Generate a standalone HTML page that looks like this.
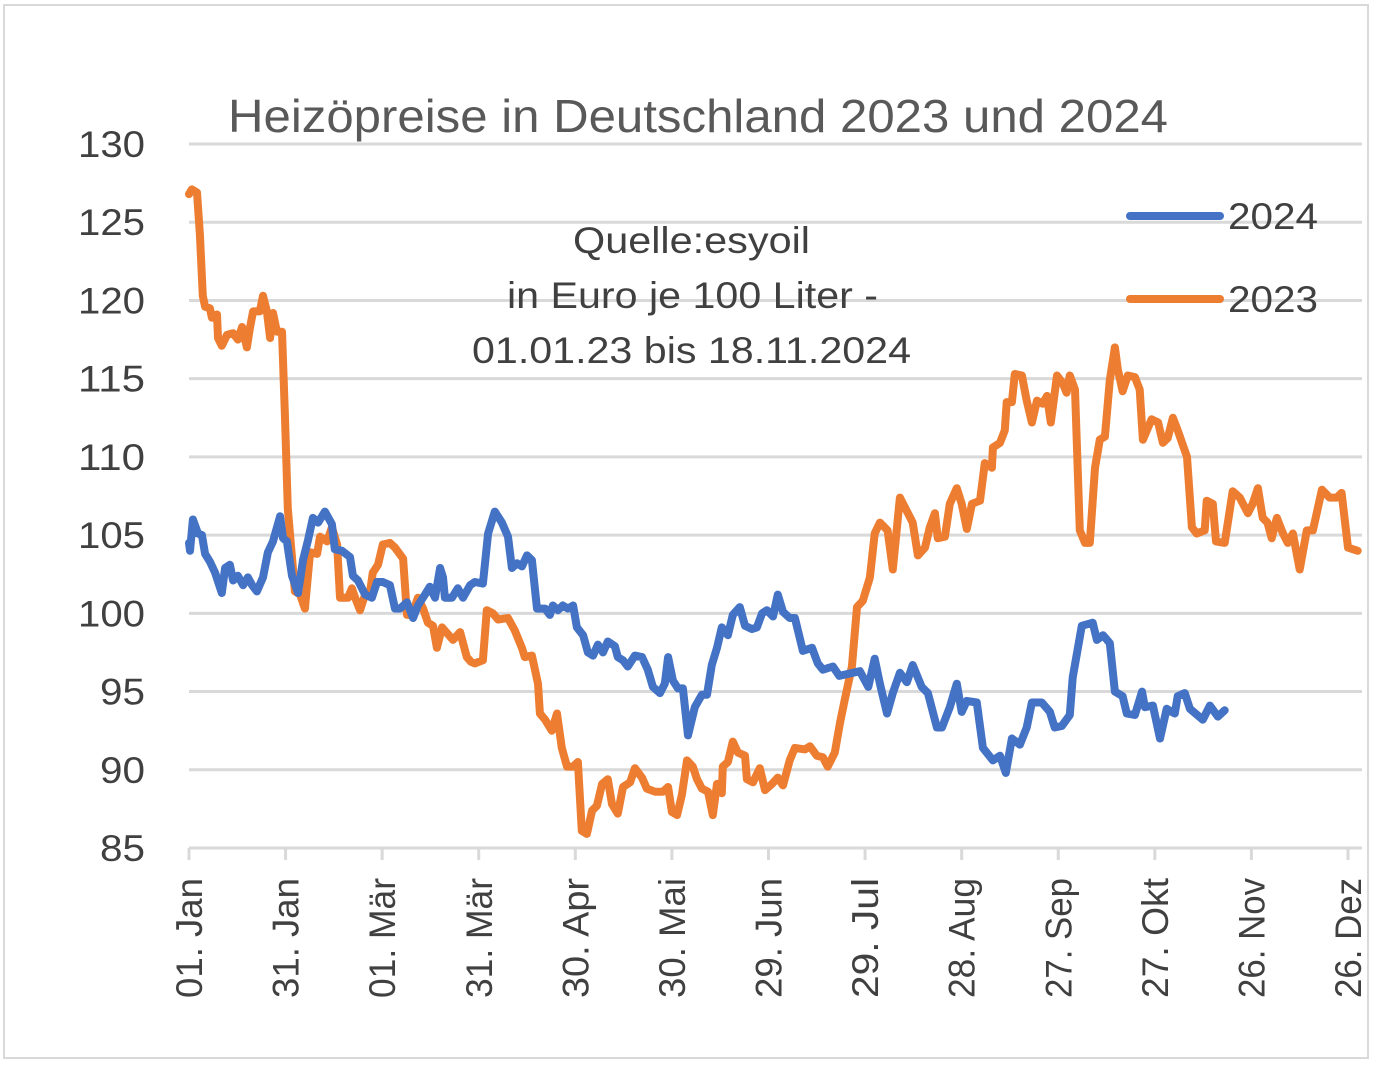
<!DOCTYPE html>
<html><head><meta charset="utf-8"><style>
html,body{margin:0;padding:0;background:#fff;}
svg{display:block;font-family:"Liberation Sans",sans-serif;}
</style></head><body>
<svg id="chart" width="1375" height="1067" viewBox="0 0 1375 1067" xmlns="http://www.w3.org/2000/svg">
<rect x="4" y="5" width="1364" height="1053" fill="#fff" stroke="#d9d9d9" stroke-width="2"/>
<text x="228" y="132" textLength="940" lengthAdjust="spacingAndGlyphs" font-size="46" fill="#595959">Heizöpreise in Deutschland 2023 und 2024</text>
<g id="grid"></g>
<g id="yaxis"></g>
<g id="xaxis"></g>
<g font-size="37" fill="#404040">
<text x="573" y="253" textLength="237" lengthAdjust="spacingAndGlyphs">Quelle:esyoil</text>
<text x="507" y="308" textLength="371" lengthAdjust="spacingAndGlyphs">in Euro je 100 Liter -</text>
<text x="472" y="363" textLength="439" lengthAdjust="spacingAndGlyphs">01.01.23 bis 18.11.2024</text>
</g>
<g id="series"></g>
<g>
<line x1="1130" y1="216" x2="1220" y2="216" stroke="#4472c4" stroke-width="8" stroke-linecap="round"/>
<text x="1228" y="229" textLength="90" lengthAdjust="spacingAndGlyphs" font-size="37" fill="#404040">2024</text>
<line x1="1130" y1="299" x2="1220" y2="299" stroke="#ed7d31" stroke-width="8" stroke-linecap="round"/>
<text x="1228" y="312" textLength="90" lengthAdjust="spacingAndGlyphs" font-size="37" fill="#404040">2023</text>
</g>
</svg>
<script>
const yTicks = [85,90,95,100,105,110,115,120,125,130];
const xTickDays = [0,30,60,90,120,150,180,210,240,270,300,330,360];
const xTickLabels = ["01. Jan","31. Jan","01. Mär","31. Mär","30. Apr","30. Mai","29. Jun","29. Jul","28. Aug","27. Sep","27. Okt","26. Nov","26. Dez"];
const days2023 = [0,0.9,2.5,3.4,4.3,5,6.5,7.1,8.7,9,10.2,11.8,13.7,15.2,16.5,18,18.9,19.9,22,23,24.2,25.2,26.1,27.3,28.9,29.8,30.7,32.9,34.5,36,37.6,39.8,40.7,42.9,44.4,46,46.9,49.4,50.6,51.6,53.1,54.7,56.2,57.1,58.7,60.2,62.4,64,66.5,67.7,69.3,71.1,72.7,74.2,75.8,77,78.6,82,84.2,86.3,87.6,88.8,91.3,92.5,94.4,96,99.1,101.2,103.4,104.3,106.5,108.4,109,110.6,112.7,114.3,115.8,117.4,119.3,120.8,122,123.6,125.2,126.7,128.3,130.1,131.4,133.2,134.8,137,138.5,140.7,142.2,144.7,147.2,148.8,150,151.6,153.1,154.7,156.5,157.8,159.3,161.2,162.7,164,165.5,165.8,167.4,168.9,170.5,172.7,173.3,175.2,177.3,178.9,181.1,182.9,184.5,186.6,188.2,191.3,192.9,195,196.9,198.4,200.6,202.2,203.7,205.9,207.5,209.3,211.5,213,214.6,217,218.6,220.8,223.3,224.8,226.4,228.6,230.1,231.7,232.6,234.8,236.3,238.5,240,241.6,243.2,245.7,247.2,249.4,249.7,251.9,253.4,254,255.6,256.5,258.7,260.2,261.8,263.4,265.2,266.5,267.7,269.6,271.4,272.6,273.6,275.2,276.7,278.3,279.8,281.4,282.9,284.5,286,287.6,288.5,290,291.6,293.8,295.3,296.3,299,301,302.5,304,305.6,307.1,310,311.5,313,315.5,316.1,318,319,321.7,324.2,326.4,328.9,330.4,332,333.5,335,336.3,337.9,339.8,341.3,342.9,345,347.2,349.1,351.9,354.3,356.5,358,360,363];
const vals2023 = [126.8,127.1,126.9,124.2,120.3,119.6,119.5,118.9,119.1,117.6,117.1,117.8,117.9,117.5,118.3,117,118.2,119.3,119.3,120.3,119.3,117.6,119.2,118,118,112.7,106.7,101.4,101.2,100.3,103.9,103.8,104.9,104.6,105.5,104.4,101,101,101.6,101,100.2,101.2,101.3,102.6,103.1,104.4,104.5,104.2,103.5,99.9,99.9,101,100.3,99.4,99.2,97.8,99.1,98.3,98.8,97.2,96.9,96.8,97,100.2,100,99.6,99.7,98.9,97.8,97.2,97.3,95.5,93.6,93.2,92.5,93.6,91.4,90.2,90.2,90.5,86.1,85.9,87.4,87.7,89.1,89.4,87.8,87.2,88.9,89.2,90.1,89.5,88.8,88.6,88.6,88.9,87.3,87.1,88.4,90.6,90.2,89.4,88.8,88.6,87.1,89.1,88.5,90.2,90.5,91.8,91.1,90.9,89.4,89.2,90.1,88.7,89.1,89.5,89,90.6,91.4,91.3,91.5,90.9,90.8,90.2,91.1,93,94.5,96.6,100.4,100.8,102.3,105.1,105.8,105.3,102.8,107.4,106.4,105.8,103.7,104.2,105.5,106.4,104.8,104.9,107,108,107,105.4,107,107.2,109.6,109.3,110.6,110.9,111.7,113.5,113.5,115.3,115.2,113.6,112.2,113.6,113.4,113.9,112.2,115.2,114.7,114.1,115.2,114.3,105.3,104.5,104.5,109.3,111.1,111.3,114.9,117,115.6,114.2,115.2,115.1,114.3,111.1,112.4,112.2,110.9,111.2,112.5,111.7,110,105.5,105.1,105.3,107.2,107,104.6,104.5,107.8,107.4,106.4,107,108,106.1,105.8,104.8,106.1,105.1,104.5,105.1,102.8,105.3,105.3,107.9,107.4,107.4,107.7,104.2,104];
const days2024 = [0,0.3,1.2,2.8,4,5,6.5,8.1,10.2,11.2,12.7,13.7,15.2,16.8,18.3,19.6,21.1,23,24.5,26.1,28.3,29.2,30.4,32,33.9,35.4,37,38.5,40.1,42.2,44.4,45.3,47.5,50,50.9,52.5,54.7,56.8,58.4,60.2,62.4,64,65.5,67.7,69.6,71.1,73.3,74.8,76.4,78,78.9,79.5,81.7,83.5,85.1,87.3,88.8,91.3,92.9,95,97.2,99.1,100.3,101.9,103.4,105,106.5,108.1,110.6,112.1,113,114.6,116.1,117.7,119.3,120.5,122.4,123.9,125.5,127,128.6,130.1,132.3,133.2,134.8,136.3,138.5,140.7,142.5,144.1,146.3,147.8,148.8,150.3,151.9,153.4,155,157.1,159.3,160.9,162.4,164,165.5,167.4,168.9,171.1,172.7,174.8,176.4,178,179.5,181.4,182.9,184.5,186.6,188.2,190.7,193.5,195.3,196.9,200,202,208.4,211,213,214.6,216.8,218.6,220.8,223,224.8,227.6,229.5,232.3,233.9,236.3,238.5,240,241.6,244.7,246.6,249.7,251.9,253.7,255.6,258.1,260.2,261.8,264.9,267.4,268.9,271.1,273.6,274.5,277.3,280.7,282,283.9,286,287.6,290,291.3,293.8,296,296.9,299.4,301.6,303.7,306.2,307.1,309.3,310.9,314.9,317.1,319.6,321.7];
const vals2024 = [104.5,104,106,105.1,105,103.8,103.3,102.6,101.3,102.9,103.1,102.1,102.4,101.8,102.3,101.8,101.4,102.3,103.9,104.6,106.2,104.8,104.6,102.4,101.3,103.4,104.7,106.1,105.8,106.5,105.7,104.1,104,103.6,102.4,102.1,101.2,101,102,102,101.8,100.3,100.3,100.7,99.7,100.5,101.2,101.7,101,102.9,102.3,101,101,101.6,101,101.8,102,101.9,105.1,106.5,105.8,104.9,102.9,103.2,103,103.7,103.4,100.3,100.3,99.9,100.5,100.2,100.5,100.3,100.5,99.1,98.6,97.5,97.3,98,97.5,98.2,97.9,97.2,97,96.6,97.3,97.2,96.4,95.3,94.9,95.5,97.2,95.7,95.2,95.2,92.2,94,94.8,94.8,96.7,97.8,99.1,98.6,99.9,100.4,99.2,99,99.1,100,100.2,99.8,101.2,100.1,99.7,99.7,97.6,97.8,96.8,96.4,96.6,96,96.3,95.3,97.1,95.5,93.6,94.9,96.2,95.6,96.7,95.3,94.9,92.7,92.7,94,95.5,93.7,94.4,94.3,91.4,90.6,90.9,89.8,92,91.6,92.7,94.3,94.3,93.7,92.7,92.8,93.5,95.9,99.2,99.4,98.3,98.6,98.1,95,94.7,93.6,93.5,95,94,94.1,92,93.9,93.6,94.7,94.9,93.9,93.2,94.1,93.4,93.8];

const X0 = 189, PX_PER_DAY = (1348 - 189) / 360;
const Y_TOP = 144, Y_BOT = 848, VMIN = 85, VMAX = 130;
function xScale(d){ return X0 + d * PX_PER_DAY; }
function yScale(v){ return Y_BOT - (v - VMIN) / (VMAX - VMIN) * (Y_BOT - Y_TOP); }
const NS = "http://www.w3.org/2000/svg";
const grid = document.getElementById('grid');
const yaxis = document.getElementById('yaxis');
const xaxis = document.getElementById('xaxis');
const series = document.getElementById('series');

yTicks.forEach(v => {
  const y = yScale(v);
  if (v !== VMIN) {
    const l = document.createElementNS(NS, 'line');
    
    
    l.setAttribute('x1', 189); l.setAttribute('x2', 1362);
    l.setAttribute('y1', y); l.setAttribute('y2', y);
    l.setAttribute('stroke', '#d9d9d9'); l.setAttribute('stroke-width', '3');
    grid.appendChild(l);
  }
  const t = document.createElementNS(NS, 'text');
  
  
  const w = String(v).length === 3 ? 67 : 45;
  t.setAttribute('x', 145 - w); t.setAttribute('y', y + 13);
  t.setAttribute('textLength', w); t.setAttribute('lengthAdjust', 'spacingAndGlyphs');
  t.setAttribute('font-size', '37');
  t.setAttribute('fill', '#404040');
  t.textContent = v;
  yaxis.appendChild(t);
});

const axisLine = document.createElementNS(NS, 'line');


axisLine.setAttribute('x1', 189); axisLine.setAttribute('x2', 1362);
axisLine.setAttribute('y1', Y_BOT); axisLine.setAttribute('y2', Y_BOT);
axisLine.setAttribute('stroke', '#d9d9d9'); axisLine.setAttribute('stroke-width', '3');
xaxis.appendChild(axisLine);

xTickDays.forEach((d, i) => {
  const x = xScale(d);
  const tk = document.createElementNS(NS, 'line');
  
  
  tk.setAttribute('x1', x); tk.setAttribute('x2', x);
  tk.setAttribute('y1', Y_BOT); tk.setAttribute('y2', Y_BOT + 12);
  tk.setAttribute('stroke', '#d9d9d9'); tk.setAttribute('stroke-width', '3');
  xaxis.appendChild(tk);
  const t = document.createElementNS(NS, 'text');
  
  
  t.setAttribute('transform', 'translate(' + (x + 13) + ',878) rotate(-90)');
  t.setAttribute('text-anchor', 'end'); t.setAttribute('font-size', '37');
  t.setAttribute('textLength', xTickLabels[i].length > 7 ? 130 : 120);
  t.setAttribute('lengthAdjust', 'spacingAndGlyphs');
  t.setAttribute('fill', '#404040');
  t.textContent = xTickLabels[i];
  xaxis.appendChild(t);
});

function drawLine(days, vals, color, name){
  const p = document.createElementNS(NS, 'path');
  let d = '';
  days.forEach((dd, i) => { d += (i ? 'L' : 'M') + xScale(dd).toFixed(1) + ',' + yScale(vals[i]).toFixed(1); });
  p.setAttribute('d', d);
  
  
  p.setAttribute('fill', 'none'); p.setAttribute('stroke', color);
  p.setAttribute('stroke-width', '8'); p.setAttribute('stroke-linejoin', 'round'); p.setAttribute('stroke-linecap', 'round');
  series.appendChild(p);
}
drawLine(days2023, vals2023, '#ed7d31', 'series-2023-line');
drawLine(days2024, vals2024, '#4472c4', 'series-2024-line');
</script>
</body></html>
